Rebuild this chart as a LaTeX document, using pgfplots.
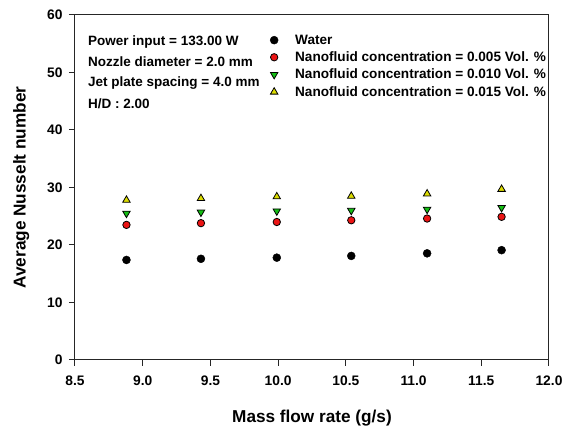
\documentclass[border=0pt]{standalone}
\usepackage{fontspec}
\setmainfont{Liberation Sans}
\usepackage{pgfplots}
\pgfplotsset{compat=1.18}
\definecolor{mred}{RGB}{235,20,20}
\definecolor{mgreen}{RGB}{20,190,20}
\definecolor{myellow}{RGB}{220,220,0}
\begin{document}
\begin{tikzpicture}
\begin{axis}[
  name=ax,
  scale only axis,
  width=474pt, height=345pt,
  xmin=8.5, xmax=12.0, ymin=0, ymax=60,
  xtick={8.5,9.0,...,12.0},
  ytick={0,10,...,60},
  tick align=outside,
  tick pos=left,
  major tick length=6pt,
  axis line style={line width=1pt, black!85},
  every tick/.style={line width=1pt, black!85},
  /pgf/number format/assume math mode=true,
  xticklabel style={yshift=-6pt, /pgf/number format/fixed, /pgf/number format/fixed zerofill, /pgf/number format/precision=1},
  yticklabel style={xshift=-3pt},
  ticklabel style={font=\bfseries\fontsize{13.8}{16}\selectfont},
  xlabel={Mass flow rate (g/s)},
  ylabel={Average Nusselt number},
  label style={font=\bfseries\fontsize{17.2}{20}\selectfont},
  xlabel style={yshift=-18pt},
  ylabel style={yshift=11pt},
  legend image code/.code={\draw[#1] plot coordinates {(0pt,0pt)};},
  legend style={draw=none, fill=none, at={(0.405,0.955)}, anchor=north west,
    font=\bfseries\fontsize{13.6}{16}\selectfont, row sep=2pt,
    /tikz/every odd column/.append style={column sep=15pt}},
  legend cell align=left,
]
\addplot[only marks, mark=*, mark size=4pt, mark options={fill=black, draw=black}]
  coordinates {(8.88,17.4) (9.43,17.6) (9.99,17.8) (10.54,18.1) (11.10,18.55) (11.65,19.1)};
\addlegendentry{Water}
\addplot[only marks, mark=*, mark size=3.7pt, mark options={fill=mred, draw=black, line width=0.8pt}]
  coordinates {(8.88,23.5) (9.43,23.8) (9.99,24.0) (10.54,24.3) (11.10,24.6) (11.65,24.9)};
\addlegendentry{Nanofluid concentration = 0.005 Vol. \%}
\addplot[only marks, mark=triangle*, mark size=4.3pt, mark options={fill=mgreen, draw=black, line width=0.8pt, rotate=180}]
  coordinates {(8.88,25.5) (9.43,25.7) (9.99,25.9) (10.54,26.0) (11.10,26.2) (11.65,26.5)};
\addlegendentry{Nanofluid concentration = 0.010 Vol. \%}
\addplot[only marks, mark=triangle*, mark size=4.3pt, mark options={fill=myellow, draw=black, line width=0.8pt}]
  coordinates {(8.88,27.8) (9.43,28.1) (9.99,28.4) (10.54,28.5) (11.10,28.9) (11.65,29.7)};
\addlegendentry{Nanofluid concentration = 0.015 Vol. \%}
\node[anchor=west, inner sep=0pt, font=\bfseries\fontsize{13.5}{16}\selectfont] at (axis cs:8.596,55.3) {Power input = 133.00 W};
\node[anchor=west, inner sep=0pt, font=\bfseries\fontsize{13.5}{16}\selectfont] at (axis cs:8.596,51.8) {Nozzle diameter = 2.0 mm};
\node[anchor=west, inner sep=0pt, font=\bfseries\fontsize{13.5}{16}\selectfont] at (axis cs:8.596,48.2) {Jet plate spacing = 4.0 mm};
\node[anchor=west, inner sep=0pt, font=\bfseries\fontsize{13.5}{16}\selectfont] at (axis cs:8.596,44.5) {H/D : 2.00};
\end{axis}
\pgfresetboundingbox
\useasboundingbox (ax.south west) ++(-75pt,-68pt) rectangle ++(566pt,428pt);
\end{tikzpicture}
\end{document}
